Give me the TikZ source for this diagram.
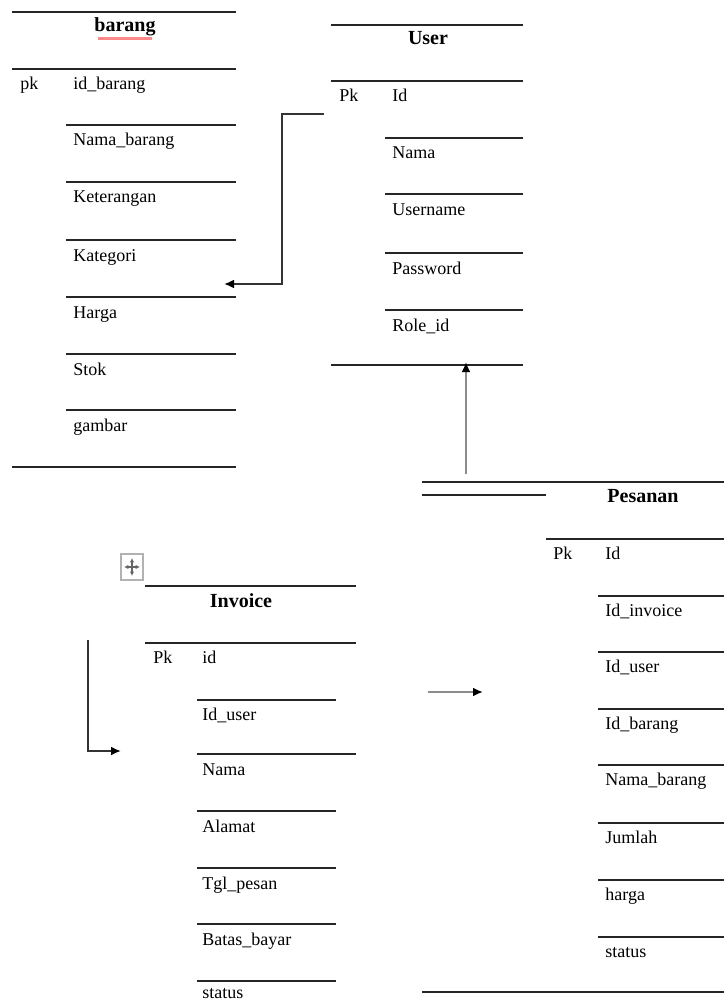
\documentclass[tikz,border=0pt]{standalone}
\usepackage{fontspec}
\setmainfont{Liberation Serif}
\usepackage{tikz}
\usetikzlibrary{arrows.meta}

\tikzset{
  rule/.style={line width=1pt, black!85},
  field/.style={anchor=base west, inner sep=0pt},
  title/.style={anchor=base, inner sep=0pt, font=\bfseries},
  link/.style={line width=1pt, black!80},
  greylink/.style={line width=1pt, black!45},
  tip/.style={-{Latex[length=5pt, width=4.5pt, color=black]}},
  movetip/.style={{Latex[length=2.2pt, width=2.2pt]}-{Latex[length=2.2pt, width=2.2pt]}}
}

\begin{document}
\begin{tikzpicture}[x=0.5pt, y=-0.5pt, font=\fontsize{9}{10.8}\selectfont]
\useasboundingbox[fill=white] (0,0) rectangle (724,1000);

% barang
\draw[rule] (12,12) -- (236,12);
\node[title] (b-title) at (125,32) {barang};
\draw[line width=1.4pt, red!35!pink!90] (98,38.5) -- (152,38.5);
\draw[rule] (12,69) -- (236,69);
\node[field] (b-pk) at (20,90) {pk};
\node[field] (b-id) at (73,90) {id\_barang};
\draw[rule] (66,125) -- (236,125);
\node[field] (b-nama) at (73,146) {Nama\_barang};
\draw[rule] (66,182) -- (236,182);
\node[field] (b-ket) at (73,203) {Keterangan};
\draw[rule] (66,240) -- (236,240);
\node[field] (b-kat) at (73,261) {Kategori};
\draw[rule] (66,297) -- (236,297);
\node[field] (b-harga) at (73,318) {Harga};
\draw[rule] (66,354) -- (236,354);
\node[field] (b-stok) at (73,375) {Stok};
\draw[rule] (66,410) -- (236,410);
\node[field] (b-gambar) at (73,431) {gambar};
\draw[rule] (12,467) -- (236,467);

% User
\draw[rule] (331,25) -- (523,25);
\node[title] (u-title) at (428,45) {User};
\draw[rule] (331,81) -- (523,81);
\node[field] (u-pk) at (339,102) {Pk};
\node[field] (u-id) at (392,102) {Id};
\draw[rule] (385,138) -- (523,138);
\node[field] (u-nama) at (392,159) {Nama};
\draw[rule] (385,194) -- (523,194);
\node[field] (u-username) at (392,215) {Username};
\draw[rule] (385,253) -- (523,253);
\node[field] (u-password) at (392,274) {Password};
\draw[rule] (385,310) -- (523,310);
\node[field] (u-role) at (392,331) {Role\_id};
\draw[rule] (331,365) -- (523,365);

% Pesanan
\draw[rule] (422,482) -- (724,482);
\draw[rule] (422,495) -- (546,495);
\node[title] (p-title) at (643,502) {Pesanan};
\draw[rule] (546,539) -- (724,539);
\node[field] (p-pk) at (553,559) {Pk};
\node[field] (p-id) at (605,559) {Id};
\draw[rule] (598,596) -- (724,596);
\node[field] (p-invoice) at (605,616) {Id\_invoice};
\draw[rule] (598,652) -- (724,652);
\node[field] (p-user) at (605,672) {Id\_user};
\draw[rule] (598,709) -- (724,709);
\node[field] (p-barang) at (605,729) {Id\_barang};
\draw[rule] (598,765) -- (724,765);
\node[field] (p-nama) at (605,785) {Nama\_barang};
\draw[rule] (598,823) -- (724,823);
\node[field] (p-jumlah) at (605,843) {Jumlah};
\draw[rule] (598,880) -- (724,880);
\node[field] (p-harga) at (605,900) {harga};
\draw[rule] (598,937) -- (724,937);
\node[field] (p-status) at (605,957) {status};
\draw[rule] (422,992) -- (724,992);

% Invoice
\draw[gray!60, line width=0.6pt] (121,554) rectangle (143,580);
\draw[gray!80!black, line width=0.6pt, movetip] (132,558) -- (132,576);
\draw[gray!80!black, line width=0.6pt, movetip] (124,567) -- (140,567);
\draw[rule] (145,586) -- (356,586);
\node[title] (i-title) at (241,607) {Invoice};
\draw[rule] (145,643) -- (356,643);
\node[field] (i-pk) at (153,663) {Pk};
\node[field] (i-id) at (202,663) {id};
\draw[rule] (197,700) -- (336,700);
\node[field] (i-user) at (202,720) {Id\_user};
\draw[rule] (197,754) -- (356,754);
\node[field] (i-nama) at (202,775) {Nama};
\draw[rule] (197,811) -- (336,811);
\node[field] (i-alamat) at (202,832) {Alamat};
\draw[rule] (197,868) -- (336,868);
\node[field] (i-tgl) at (202,889) {Tgl\_pesan};
\draw[rule] (197,924) -- (336,924);
\node[field] (i-batas) at (202,945) {Batas\_bayar};
\draw[rule] (197,981) -- (336,981);
\node[field] (i-status) at (202,998) {status};

% connectors
\coordinate (u-out) at (324,114);
\coordinate (bend) at (282,284);
\coordinate (b-in) at (224,284);
\draw[link, tip] (u-out) -| (bend) -- (b-in);
\coordinate (p-up) at (466,474);
\coordinate (u-bot) at (466,362);
\draw[greylink, tip] (p-up) -- (u-bot);
\coordinate (g-from) at (428,692);
\coordinate (g-to) at (483,692);
\draw[greylink, tip] (g-from) -- (g-to);
\coordinate (i-up) at (88,640);
\coordinate (i-in) at (121,751);
\draw[link, tip] (i-up) |- (i-in);
\end{tikzpicture}
\end{document}
